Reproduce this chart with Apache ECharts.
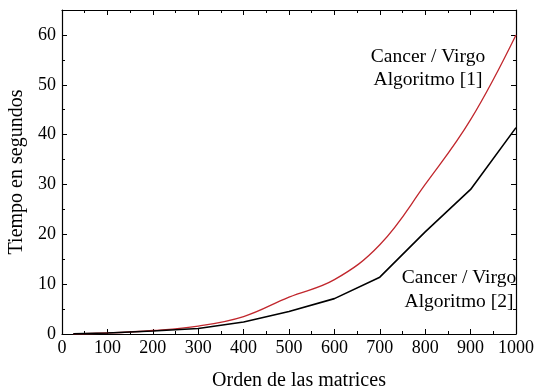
<!DOCTYPE html>
<html>
<head>
<meta charset="utf-8">
<script src="https://cdn.jsdelivr.net/npm/echarts@6/dist/echarts.min.js"></script>
<style>html,body{margin:0;padding:0;background:#fff}#c{width:540px;height:391px}</style>
</head>
<body>
<div id="c"></div>
<script>
var xValues = [25, 100, 200, 300, 400, 500, 600, 700, 800, 900, 1000];
var alg1 = [0.05, 0.2, 0.7, 1.6, 3.5, 7.4, 10.9, 17.9, 30, 43, 60];
var alg2 = [0.05, 0.2, 0.6, 1.1, 2.4, 4.5, 7.1, 11.4, 20.5, 29, 41.4];
var xTitle = 'Orden de las matrices';
var yTitle = 'Tiempo en segundos';
var label1 = ['Cancer / Virgo', 'Algoritmo [1]'];
var label2 = ['Cancer / Virgo', 'Algoritmo [2]'];

var font = 'Liberation Serif';
var chart = echarts.init(document.getElementById('c'));
function pairs(xs, ys){ return xs.map(function(x,i){return [x, ys[i]];}); }
var axisCommon = {
  axisLine:{show:true, onZero:false, lineStyle:{color:'#000', width:1.2}},
  axisTick:{show:true, inside:true, length:5, lineStyle:{color:'#000'}},
  minorTick:{show:true, splitNumber:2, length:3, lineStyle:{color:'#000'}},
  splitLine:{show:false}
};
var tf = '19.5px "Liberation Serif"';
chart.setOption({
  animation:false,
  grid:{left:62, right:24, top:10, bottom:57, containLabel:false, outerBoundsMode:'none'},
  xAxis:[
    Object.assign({type:'value', min:0, max:1000, interval:100, position:'bottom',
      name:xTitle, nameLocation:'middle', nameGap:37,
      nameTextStyle:{fontFamily:font, fontSize:20, color:'#000', padding:[0,0,0,20]},
      axisLabel:{fontFamily:font, fontSize:18, color:'#000', margin:5,
        formatter:function(v){return String(v);}}}, axisCommon),
    Object.assign({type:'value', min:0, max:1000, interval:100, position:'top',
      axisLabel:{show:false}}, axisCommon)
  ],
  yAxis:[
    Object.assign({type:'value', min:0, max:65, interval:10, position:'left',
      name:yTitle, nameLocation:'middle', nameGap:35,
      nameTextStyle:{fontFamily:font, fontSize:20, color:'#000'},
      axisLabel:{fontFamily:font, fontSize:18, color:'#000', margin:6, showMaxLabel:false}}, axisCommon),
    Object.assign({type:'value', min:0, max:65, interval:10, position:'right',
      axisLabel:{show:false}}, axisCommon)
  ],
  series:[
    {type:'line', data:pairs(xValues, alg1), smooth:0.4, symbol:'none',
      lineStyle:{color:'#c1272d', width:1.3}},
    {type:'line', data:pairs(xValues, alg2), smooth:false, symbol:'none',
      lineStyle:{color:'#000', width:1.6}}
  ],
  graphic:[
    {type:'text', x:428, y:57, style:{text:label1[0], font:tf, fill:'#000', textAlign:'center', textVerticalAlign:'middle'}},
    {type:'text', x:428, y:80, style:{text:label1[1], font:tf, fill:'#000', textAlign:'center', textVerticalAlign:'middle'}},
    {type:'text', x:459, y:278, style:{text:label2[0], font:tf, fill:'#000', textAlign:'center', textVerticalAlign:'middle'}},
    {type:'text', x:459, y:302, style:{text:label2[1], font:tf, fill:'#000', textAlign:'center', textVerticalAlign:'middle'}}
  ]
});
</script>
</body>
</html>
